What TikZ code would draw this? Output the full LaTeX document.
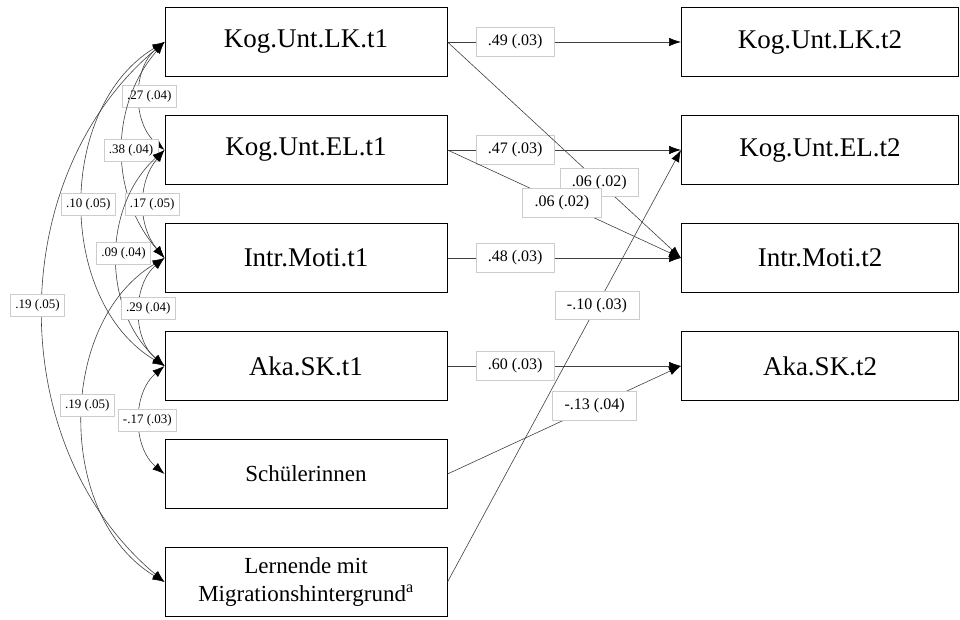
\documentclass[tikz,border=0pt]{standalone}
\usepackage{fontspec}
\setmainfont{Liberation Serif}
\usetikzlibrary{arrows.meta}

\tikzset{
    var/.style={draw, line width=1pt, minimum height=69pt, inner sep=0pt},
    bigtxt/.style={font=\fontsize{27}{32}\selectfont},
    smalltxt/.style={font=\fontsize{23}{28}\selectfont, align=center},
    tip/.tip={Latex[length=12pt,width=8.5pt,color=black]},
    reg/.style={-tip, black!75, line width=0.6pt},
    cov/.style={tip-tip, black!75, line width=0.6pt},
    coef/.style={fill=white, draw=black!20, text=black, font=\fontsize{16}{18}\selectfont, inner xsep=12pt, inner ysep=7pt},
    corr/.style={fill=white, draw=black!20, text=black, font=\fontsize{13}{15}\selectfont, inner xsep=5pt, inner ysep=5pt}
}

\begin{document}
\begin{tikzpicture}[x=1pt, y=1pt]
            \useasboundingbox (0,0) rectangle (960,620);

            % t1 und t2
            \foreach \n / \t / \y in {lk/Kog.Unt.LK/578, el/Kog.Unt.EL/470, im/Intr.Moti/362, sk/Aka.SK/254}
                {
                    \node[var, bigtxt, minimum width=282pt] (\n1) at (306, \y){\t.t1};
                    \node[var, bigtxt, minimum width=277pt] (\n2) at (820, \y){\t.t2};
                }
            \node[var, smalltxt, minimum width=282pt] (sch) at (306, 146){Sch\"ulerinnen};
            \node[var, smalltxt, minimum width=282pt] (mig) at (306, 38){Lernende mit\\Migrationshintergrund\textsuperscript{a}};

            % Kovarianzen
            \draw[cov] (lk1.west) to[bend right=50] node[corr, xshift=9pt] (c1) {.27 (.04)} (el1.west);
            \draw[cov] (lk1.west) to[bend right=41] node[corr, xshift=8pt] (c2) {.38 (.04)} (im1.west);
            \draw[cov] (lk1.west) to[bend right=59] node[corr, xshift=5pt] (c3) {.10 (.05)} (sk1.west);
            \draw[cov] (lk1.west) to[bend right=50] node[corr, xshift=-6pt, yshift=7pt] (c4) {.19 (.05)} (mig.west);
            \draw[cov] (el1.west) to[bend right=40] node[corr, xshift=8pt] (c5) {.17 (.05)} (im1.west);
            \draw[cov] (el1.west) to[bend right=48] node[corr, xshift=6pt, yshift=5pt] (c6) {.09 (.04)} (sk1.west);
            \draw[cov] (im1.west) to[bend right=50] node[corr, xshift=8pt, yshift=4pt] (c7) {.29 (.04)} (sk1.west);
            \draw[cov] (im1.west) to[bend right=59] node[corr, xshift=4pt, yshift=15pt] (c8) {.19 (.05)} (mig.west);
            \draw[cov] (sk1.west) to[bend right=50] node[corr, xshift=7pt] (c9) {-.17 (.03)} (sch.west);

            % Pfade
            \foreach \n / \t in {lk/.49 (.03), el/.47 (.03), im/.48 (.03), sk/.60 (.03)}
                {
                    \draw[reg] (\n1.east) -- node[coef, pos=0.29] (p\n) {\t} (\n2.west);
                }
            \draw[reg] (lk1.east) -- node[coef, pos=0.65] (plkim) {.06 (.02)} (im2.west);
            \draw[reg] (el1.east) -- node[coef, pos=0.49] (pelim) {.06 (.02)} (im2.west);
            \draw[reg] (mig.east) -- node[coef, pos=0.64] (pmig) {-.10 (.03)} (el2.west);
            \draw[reg] (sch.east) -- node[coef, pos=0.63] (psch) {-.13 (.04)} (sk2.west);

        \end{tikzpicture}
\end{document}
